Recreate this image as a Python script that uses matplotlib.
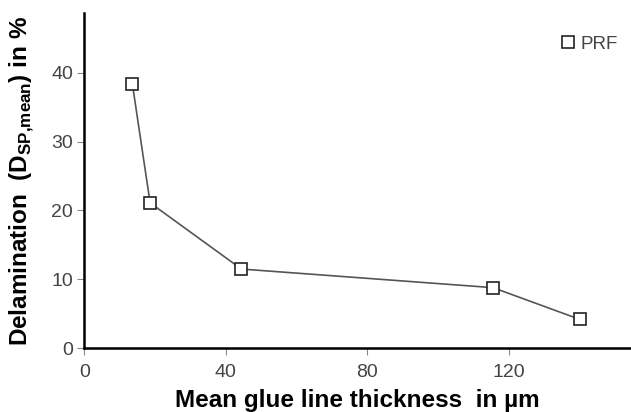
import matplotlib
matplotlib.use("Agg")
import matplotlib.pyplot as plt
from matplotlib.lines import Line2D

# glue line thickness [µm] vs. delamination [%]
thickness = [13.6, 18.6, 44.4, 115.5, 140.0]
delamination = [38.3, 21.1, 11.5, 8.8, 4.2]
series_name = "PRF"
x_ticks = [0, 40, 80, 120]
y_ticks = [0, 10, 20, 30, 40]

plt.rcParams["font.family"] = ["Liberation Sans", "DejaVu Sans"]
plt.rcParams["mathtext.fontset"] = "custom"
plt.rcParams["mathtext.rm"] = "Liberation Sans"
plt.rcParams["mathtext.bf"] = "Liberation Sans:bold"

_TICK_GRAY = "#444444"
marker_kw = dict(marker="s", markersize=8.5, markerfacecolor="white",
                 markeredgecolor="#222222", markeredgewidth=1.2)

fig = plt.figure(figsize=(6.31, 4.12), dpi=100)
ax = fig.add_axes([0.1336, 0.1546, 0.8664, 0.8131])

ax.plot(thickness, delamination, color="#555555", lw=1.2, clip_on=False,
        zorder=3, **marker_kw)

ax.set_xlim(0, 154.5)
ax.set_ylim(0, 48.6)
ax.set_xticks(x_ticks)
ax.set_yticks(y_ticks)

for side in ("top", "right"):
    ax.spines[side].set_visible(False)
for side in ("left", "bottom"):
    ax.spines[side].set_linewidth(1.8)
    ax.spines[side].set_color("black")

ax.tick_params(axis="both", direction="out", length=5, width=0.8,
               color="#888888", labelcolor=_TICK_GRAY, labelsize=14)
ax.tick_params(axis="x", pad=6)
ax.tick_params(axis="y", pad=3)

ax.set_xlabel("Mean glue line thickness  in µm", fontsize=17.5,
              fontweight="bold", labelpad=6)
ax.set_ylabel(r"Delamination  (D$_{\mathbf{SP{,}mean}}$) in %", fontsize=17.5,
              fontweight="bold", labelpad=11)

handle = Line2D([], [], linestyle="none", **marker_kw)
leg = ax.legend([handle], [series_name], loc="upper right", frameon=False,
                fontsize=13.5, handlelength=0.8, handletextpad=0.3,
                borderaxespad=0.0, bbox_to_anchor=(0.99, 0.955))
for t in leg.get_texts():
    t.set_color(_TICK_GRAY)

fig.savefig("out.png", dpi=100)
